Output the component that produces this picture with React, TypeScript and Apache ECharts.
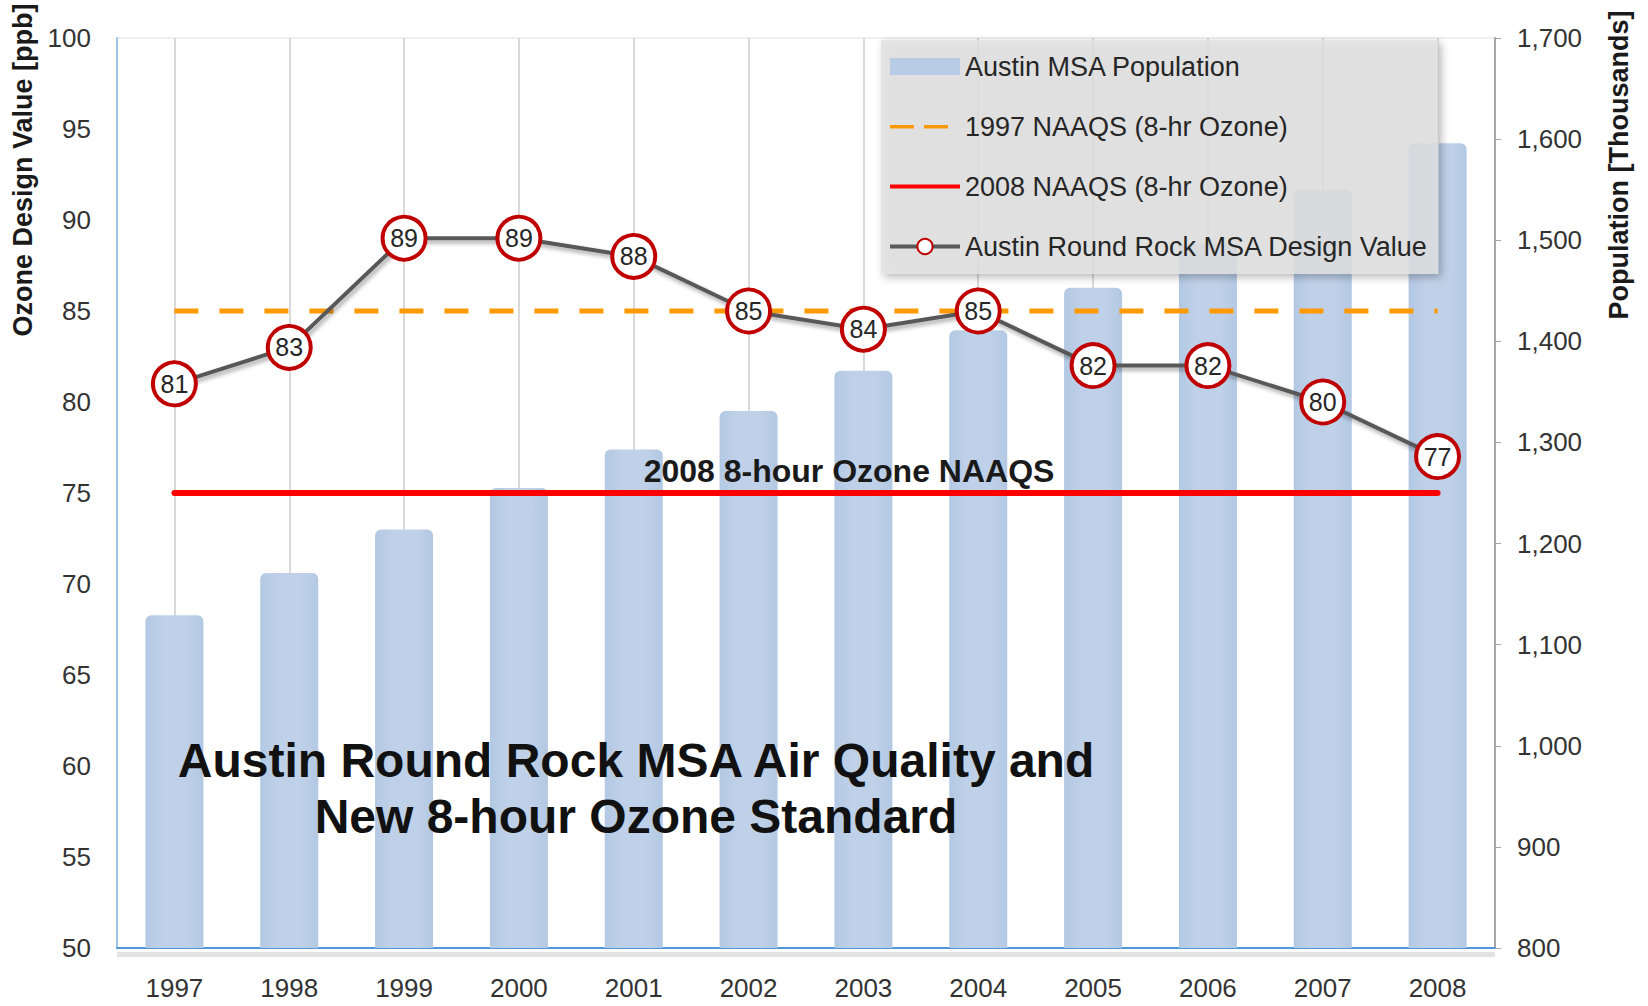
import React, { useEffect, useRef } from "react";
import * as echarts from "echarts";

const categories = ["1997", "1998", "1999", "2000", "2001", "2002", "2003", "2004", "2005", "2006", "2007", "2008"];
const population = [1129, 1171, 1214, 1255, 1293, 1331, 1371, 1411, 1453, 1497, 1550, 1596];
const designValue = [81, 83, 89, 89, 88, 85, 84, 85, 82, 82, 80, 77];
const naaqs1997 = 85;
const naaqs2008 = 75;
const ozoneAxis = { min: 50, max: 100, interval: 5 };
const popAxis = { min: 800, max: 1700, interval: 100 };

const FONT = "'Liberation Sans', Arial, sans-serif";
// tiny corner squares fix the icon's bounding box so the visible parts keep their place
const ICON_BOX = "M0,0h0.05v0.05h-0.05z M69.95,18.95h0.05v0.05h-0.05z";

export default function App() {
  const ref = useRef<HTMLDivElement>(null);
  useEffect(() => {
    document.body.style.margin = "0";
    document.body.style.overflow = "hidden";
    const chart = echarts.init(ref.current!, null, { renderer: "svg" });
    const lineShadow = {
      shadowBlur: 4,
      shadowColor: "rgba(0,0,0,0.35)",
      shadowOffsetX: 2,
      shadowOffsetY: 3,
    };
    const lastIdx = categories.length - 1;
    const option: any = {
      animation: false,
      backgroundColor: "#ffffff",
      textStyle: { fontFamily: FONT },
      grid: {
        left: 117,
        right: 153,
        top: 38,
        bottom: 58,
        show: true,
        borderColor: "#e0e0e0",
        borderWidth: 1,
        backgroundColor: "transparent",
      },
      legend: {
        orient: "vertical",
        left: 881,
        top: 40,
        padding: [13, 10, 14, 7],
        itemWidth: 70,
        itemHeight: 19,
        itemGap: 33,
        backgroundColor: "rgba(226,226,226,0.82)",
        shadowBlur: 8,
        shadowColor: "rgba(0,0,0,0.35)",
        shadowOffsetX: 3,
        shadowOffsetY: 3,
        textStyle: { fontSize: 27, color: "#262626", fontFamily: FONT },
        data: [
          {
            name: "Austin MSA Population",
            icon: `path://${ICON_BOX} M0,1h70v17h-70z`,
            itemStyle: { color: "#b9cce5" },
          },
          {
            name: "1997 NAAQS (8-hr Ozone)",
            icon: `path://${ICON_BOX} M0,8h24v3.5h-24z M34,8h24v3.5h-24z`,
            itemStyle: { color: "#ff9900" },
          },
          {
            name: "2008 NAAQS (8-hr Ozone)",
            icon: `path://${ICON_BOX} M0,7.5h70v4h-70z`,
            itemStyle: { color: "#ff0000" },
          },
          { name: "Austin Round Rock MSA Design Value", lineStyle: { width: 4 } },
        ],
      },
      xAxis: {
        type: "category",
        data: categories,
        boundaryGap: true,
        axisLine: { show: true, lineStyle: { color: "#4f97d8", width: 2 } },
        axisTick: { show: true, inside: true, alignWithLabel: true, length: 6, lineStyle: { color: "#4f97d8", width: 2 } },
        axisLabel: { fontSize: 26, color: "#333333", margin: 27, fontFamily: FONT },
        splitLine: { show: true, alignWithLabel: true, lineStyle: { color: "#d9d9d9", width: 2 } },
      },
      yAxis: [
        {
          type: "value",
          min: ozoneAxis.min,
          max: ozoneAxis.max,
          interval: ozoneAxis.interval,
          position: "left",
          axisLine: { show: true, lineStyle: { color: "#9cc3e8", width: 2 } },
          axisTick: { show: false },
          splitLine: { show: false },
          axisLabel: { fontSize: 26, color: "#333333", margin: 26, fontFamily: FONT },
        },
        {
          type: "value",
          min: popAxis.min,
          max: popAxis.max,
          interval: popAxis.interval,
          position: "right",
          axisLine: { show: true, lineStyle: { color: "#a6a6a6", width: 2 } },
          axisTick: { show: true, length: 6, lineStyle: { color: "#a6a6a6", width: 1 } },
          splitLine: { show: false },
          axisLabel: {
            fontSize: 26,
            color: "#333333",
            margin: 22,
            fontFamily: FONT,
            formatter: (v: number) => v.toLocaleString("en-US"),
          },
        },
      ],
      series: [
        {
          name: "Austin MSA Population",
          type: "bar",
          yAxisIndex: 1,
          data: population,
          barWidth: 58,
          z: 2,
          itemStyle: {
            color: new echarts.graphic.LinearGradient(0, 0, 1, 0, [
              { offset: 0, color: "#b3c8e3" },
              { offset: 0.3, color: "#bfd1e8" },
              { offset: 0.7, color: "#bfd1e8" },
              { offset: 1, color: "#b3c8e3" },
            ]),
            borderRadius: [6, 6, 0, 0],
          },
        },
        {
          name: "1997 NAAQS (8-hr Ozone)",
          type: "line",
          yAxisIndex: 0,
          data: [
            [0, naaqs1997],
            [lastIdx, naaqs1997],
          ],
          symbol: "none",
          z: 3,
          silent: true,
          lineStyle: { color: "#ff9900", width: 5, type: [24, 21] },
          itemStyle: { color: "#ff9900" },
        },
        {
          name: "2008 NAAQS (8-hr Ozone)",
          type: "line",
          yAxisIndex: 0,
          data: [
            [0, naaqs2008],
            [lastIdx, naaqs2008],
          ],
          symbol: "none",
          z: 3,
          silent: true,
          lineStyle: { color: "#ff0000", width: 6, cap: "round" },
          itemStyle: { color: "#ff0000" },
        },
        {
          name: "Austin Round Rock MSA Design Value",
          type: "line",
          yAxisIndex: 0,
          data: designValue,
          z: 4,
          symbol: "circle",
          symbolSize: 43,
          lineStyle: { color: "#595959", width: 4, ...lineShadow },
          itemStyle: { color: "#ffffff", borderColor: "#c00000", borderWidth: 4 },
          label: {
            show: true,
            position: "inside",
            fontSize: 25,
            color: "#262626",
            fontFamily: FONT,
          },
        },
      ],
      graphic: [
        {
          type: "rect",
          silent: true,
          z: 0,
          shape: { x: 117, y: 952, width: 1378, height: 5 },
          style: { fill: "rgba(0,0,0,0.10)", shadowBlur: 6, shadowColor: "rgba(0,0,0,0.2)" },
        },
        {
          type: "text",
          x: 23,
          y: 170,
          rotation: Math.PI / 2,
          style: {
            text: "Ozone Design Value [ppb]",
            font: `bold 27px ${FONT}`,
            fill: "#1a1a1a",
            textAlign: "center",
            textVerticalAlign: "middle",
          },
        },
        {
          type: "text",
          x: 1619,
          y: 165,
          rotation: Math.PI / 2,
          style: {
            text: "Population [Thousands]",
            font: `bold 27px ${FONT}`,
            fill: "#1a1a1a",
            textAlign: "center",
            textVerticalAlign: "middle",
          },
        },
        {
          type: "text",
          x: 849,
          y: 471,
          z: 10,
          style: {
            text: "2008 8-hour Ozone NAAQS",
            font: `bold 32px ${FONT}`,
            fill: "#1a1a1a",
            textAlign: "center",
            textVerticalAlign: "middle",
          },
        },
        {
          type: "text",
          x: 636,
          y: 760,
          z: 10,
          style: {
            text: "Austin Round Rock MSA Air Quality and",
            font: `bold 48px ${FONT}`,
            fill: "#111111",
            textAlign: "center",
            textVerticalAlign: "middle",
          },
        },
        {
          type: "text",
          x: 636,
          y: 816,
          z: 10,
          style: {
            text: "New 8-hour Ozone Standard",
            font: `bold 48px ${FONT}`,
            fill: "#111111",
            textAlign: "center",
            textVerticalAlign: "middle",
          },
        },
      ],
    };
    chart.setOption(option);
    return () => chart.dispose();
  }, []);
  return <div ref={ref} style={{ width: 1648, height: 1006 }} />;
}
